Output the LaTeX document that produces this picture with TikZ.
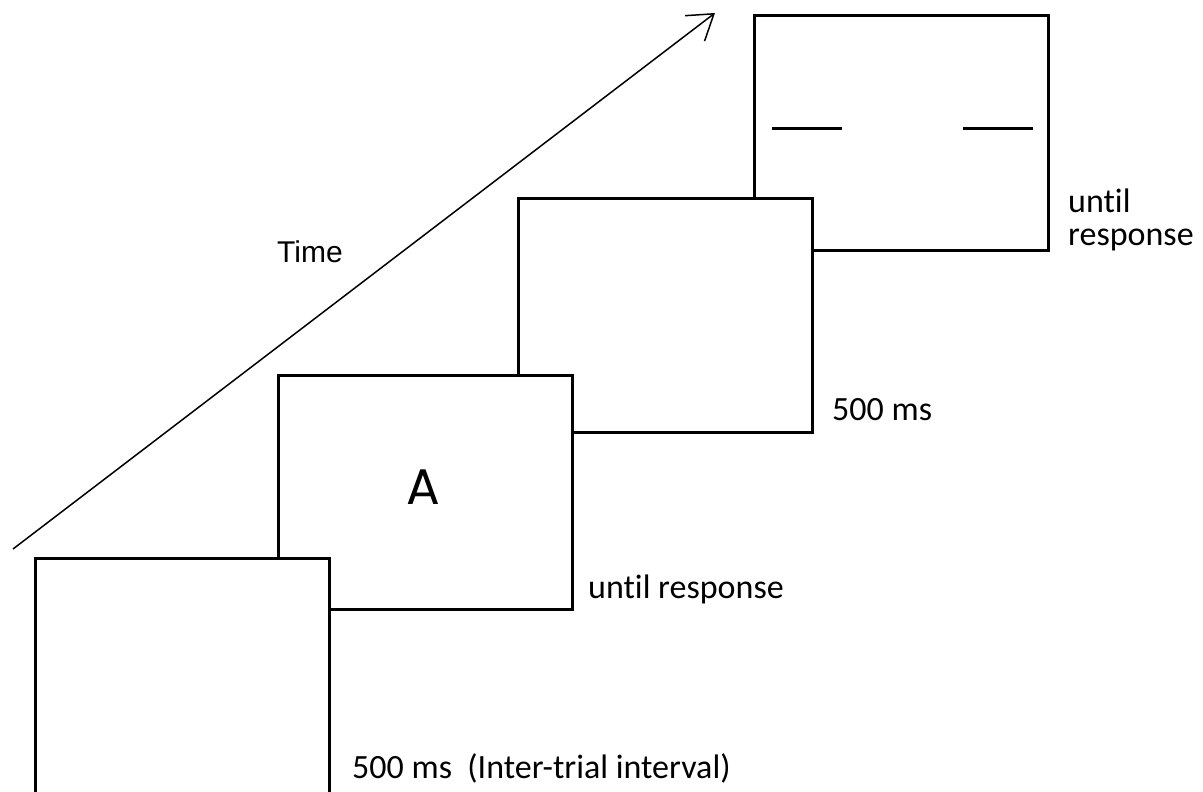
\documentclass[tikz,border=0pt]{standalone}
\usepackage{fontspec}
\setmainfont{Carlito}[Ligatures=NoCommon]
\newfontfamily\arialf{Liberation Sans}
\newfontfamily\gothicf{Poppins}
\usetikzlibrary{arrows.meta}
\tikzset{
  screen/.style={draw=black, fill=white, line width=3pt, rectangle, inner sep=0pt,
    minimum width=294pt, minimum height=234pt},
  lbl/.style={inner sep=0pt, anchor=base west, font=\fontsize{34}{33}\selectfont},
  timearrow/.style={line width=1.5pt, -{Straight Barb[length=24pt,width=32pt,line width=1.5pt]}},
  bar/.style={line width=3pt}
}
\begin{document}
\begin{tikzpicture}[x=1pt,y=-1pt]
\useasboundingbox (0,0) rectangle (1203,792);
\clip (0,0) rectangle (1203,792);
\fill[white] (0,0) rectangle (1203,792);
% time arrow
\coordinate (tstart) at (13,549);
\coordinate (tend) at (715,13);
\draw[timearrow] (tstart) -- (tend);
\node[inner sep=0pt, anchor=base west, font=\arialf\fontsize{30}{30}\selectfont] (time) at (277,262) {Time};
% screens (later ones behind)
\node[screen] (s4) at (901,133) {};
\draw[bar] (772,128) -- (842,128);
\draw[bar] (963,128) -- (1033,128);
\node[screen] (s3) at (665.5,315) {};
\node[screen] (s2) at (425,492) {};
\node[inner sep=0pt, font=\gothicf\fontsize{50}{50}\selectfont] (letter) at (423,487) {A};
\node[screen, minimum height=246pt] (s1) at (182,681) {};
% labels
\node[lbl] (l1) at (352,778) {500 ms\ \ (Inter-trial interval)};
\node[lbl] (l2) at (588,598) {until response};
\node[lbl] (l3) at (832,420) {500 ms};
\node[lbl, align=left] (l4) at (1068,245) {until\\response};
\end{tikzpicture}
\end{document}
